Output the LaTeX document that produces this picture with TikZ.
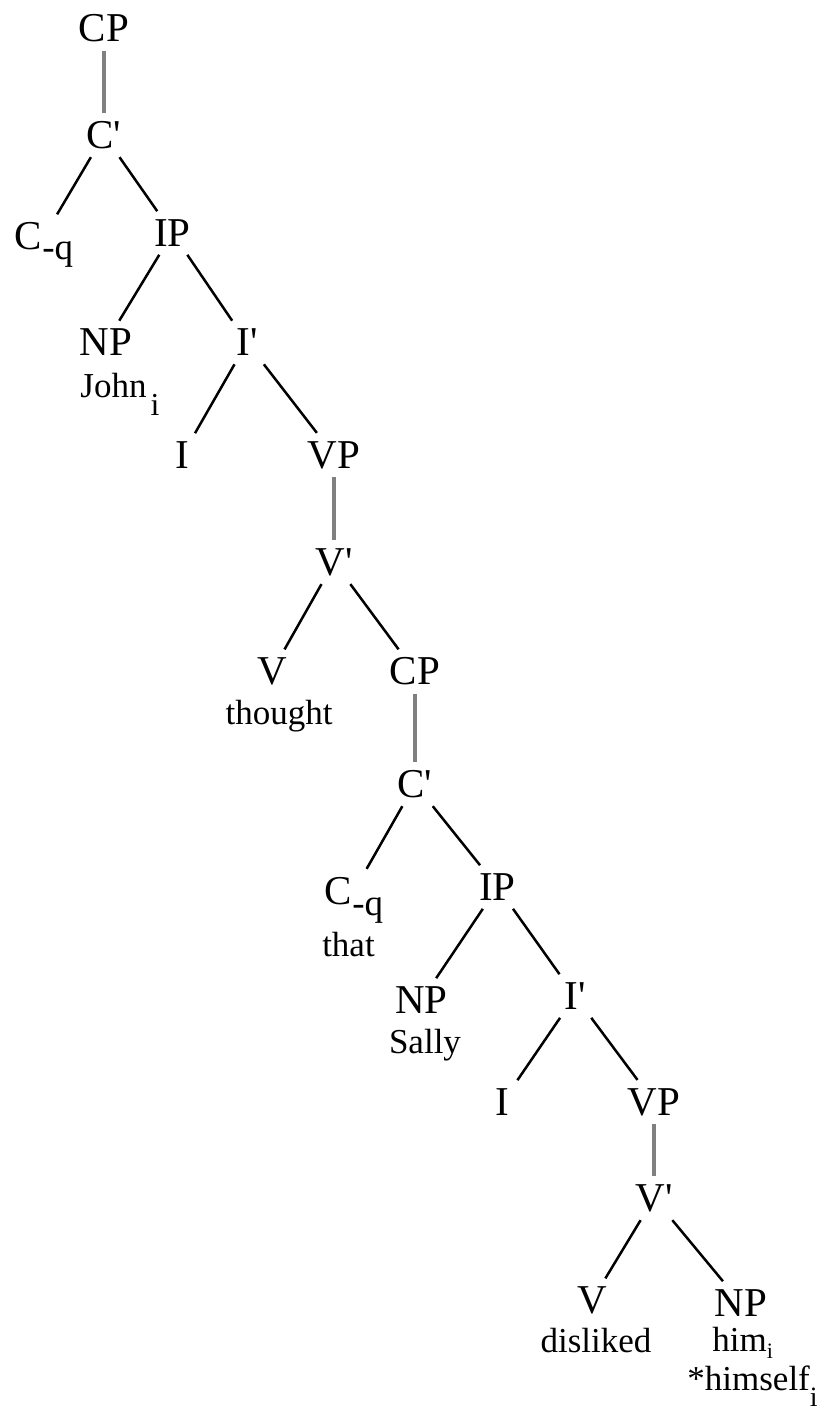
\documentclass[tikz,border=0pt]{standalone}
\usepackage{fontspec}
\setmainfont{Liberation Serif}[Ligatures=TeXOff]

\newcommand{\lowidx}[3]{\raisebox{-#1}[0pt][0pt]{\fontsize{#2}{#2}\selectfont #3}}

\begin{document}
\begin{tikzpicture}[x=0.5pt, y=-0.5pt,
    cat/.style={font=\fontsize{20.5}{22}\selectfont, inner sep=4pt},
    word/.style={font=\fontsize{17.5}{19}\selectfont, inner sep=0pt, anchor=base},
    branch/.style={line width=1.25pt},
    stem/.style={line width=2pt, black!50}]

    \useasboundingbox (0,0) rectangle (834,1410);

    % Matrix clause
    \node[cat] at (104, 28.5) (cp1) {CP};
    \node[cat] at (104, 135) (cbar1) {C'};
    \node[cat] at (44, 236.5) (cq1) {C\lowidx{5pt}{18.5}{-q}};
    \node[cat] at (172.5, 233) (ip1) {IP};
    \node[cat] at (106, 342.5) (np1) {NP};
    \node[cat] at (247, 342.5) (ibar1) {I'};
    \node[cat] at (182.5, 455) (i1) {I};
    \node[cat] at (334, 455) (vp1) {VP};
    \node[cat] at (334, 562) (vbar1) {V'};
    \node[cat] at (272, 671.5) (v1) {V};

    % Embedded clause
    \node[cat] at (415, 671.5) (cp2) {CP};
    \node[cat] at (415, 784) (cbar2) {C'};
    \node[cat] at (354, 891) (cq2) {C\lowidx{5.5pt}{18.5}{-q}};
    \node[cat] at (497.5, 887) (ip2) {IP};
    \node[cat] at (421.5, 1000) (np2) {NP};
    \node[cat] at (575, 996) (ibar2) {I'};
    \node[cat] at (502.5, 1102) (i2) {I};
    \node[cat] at (654, 1102) (vp2) {VP};
    \node[cat] at (654, 1198) (vbar2) {V'};
    \node[cat] at (592, 1300.5) (v2) {V};
    \node[cat] at (741, 1303) (np3) {NP};

    % Words under the leaves
    \node[word, anchor=base west] at (80, 397) (john) {John\kern2pt\lowidx{9pt}{16}{i}};
    \node[word] at (279, 724) (thought) {thought};
    \node[word] at (348.5, 956) (that) {that};
    \node[word] at (425, 1053) (sally) {Sally};
    \node[word] at (596, 1352) (disliked) {disliked};
    \node[word, anchor=base west] at (712, 1351) (him) {him\lowidx{3.5pt}{11}{i}};
    \node[word, anchor=base west] at (687, 1390) (himself) {*himself\lowidx{8pt}{14}{i}};

    % Branches, matrix clause
    \draw[stem] (cp1) -- (cbar1);
    \draw[branch] (cbar1) -- (cq1);
    \draw[branch] (cbar1) -- (ip1);
    \draw[branch] (ip1) -- (np1);
    \draw[branch] (ip1) -- (ibar1);
    \draw[branch] (ibar1) -- (i1);
    \draw[branch] (ibar1) -- (vp1);
    \draw[stem] (vp1) -- (vbar1);
    \draw[branch] (vbar1) -- (v1);
    \draw[branch] (vbar1) -- (cp2);

    % Branches, embedded clause
    \draw[stem] (cp2) -- (cbar2);
    \draw[branch] (cbar2) -- (cq2);
    \draw[branch] (cbar2) -- (ip2);
    \draw[branch] (ip2) -- (np2);
    \draw[branch] (ip2) -- (ibar2);
    \draw[branch] (ibar2) -- (i2);
    \draw[branch] (ibar2) -- (vp2);
    \draw[stem] (vp2) -- (vbar2);
    \draw[branch] (vbar2) -- (v2);
    \draw[branch] (vbar2) -- (np3);
\end{tikzpicture}
\end{document}
